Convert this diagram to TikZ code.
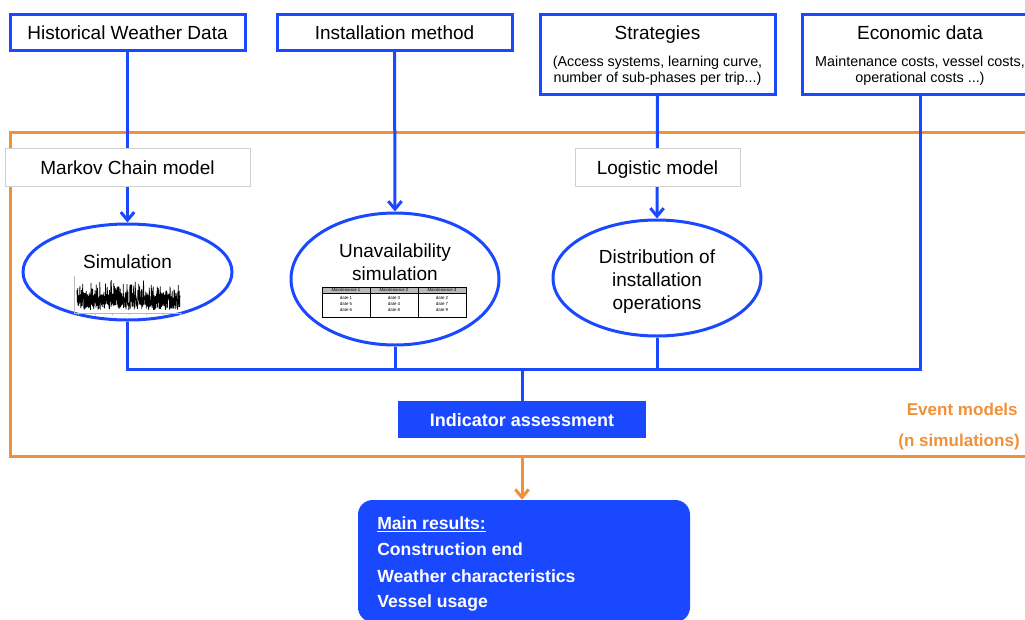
\documentclass[tikz,border=0pt]{standalone}
\usepackage{fontspec}
\setmainfont{Liberation Sans}
\usetikzlibrary{arrows.meta,shapes.geometric}
\definecolor{flowblue}{RGB}{26,72,255}
\definecolor{evorange}{RGB}{240,145,58}
\definecolor{modelgray}{RGB}{208,208,208}
\begin{document}
\begin{tikzpicture}[x=0.75pt,y=-0.75pt,
  inbox/.style={draw=flowblue, line width=2.25pt, fill=white, minimum width=176.25pt, inner sep=0pt},
  txt/.style={font=\fontsize{14.25}{17}\selectfont, anchor=base, inner sep=0pt},
  subtxt/.style={font=\fontsize{10.75}{12}\selectfont, anchor=base, inner sep=0pt},
  modelbox/.style={draw=modelgray, line width=0.75pt, fill=white, minimum height=28.5pt, inner sep=0pt},
  evt/.style={ellipse, draw=flowblue, line width=2.25pt, fill=white, inner sep=0pt},
  link/.style={draw=flowblue, line width=2.25pt},
  arr/.style={link, -{Straight Barb[length=6pt,width=10pt]}},
  oarr/.style={draw=evorange, line width=2.25pt, -{Straight Barb[length=6pt,width=10pt]}},
  boldw/.style={font=\bfseries\fontsize{13.2}{15}\selectfont, text=white, inner sep=0pt},
  evtxt/.style={font=\bfseries\fontsize{12.8}{15}\selectfont, text=evorange, anchor=base east, inner sep=0pt},
  tabtxt/.style={font=\fontsize{3.3}{3.6}\selectfont, inner sep=0pt}
]
\clip (0,0) rectangle (1025,619);

% frame of the event models
\draw[evorange, line width=2.25pt] (10,132) rectangle (1050,456);
\coordinate (fb) at (522,456);

% input boxes
\node[inbox, minimum height=27pt] (hist) at (127.5,32) {};
\node[txt] (histt) at (127.5,39) {Historical Weather Data};
\node[inbox, minimum height=27pt] (inst) at (394.5,32) {};
\node[txt] (instt) at (394.5,39) {Installation method};
\node[inbox, minimum height=60pt] (strat) at (657.5,54) {};
\node[txt] (stratt) at (657.5,39) {Strategies};
\node[subtxt] (strats1) at (657.5,66) {(Access systems, learning curve,};
\node[subtxt] (strats2) at (657.5,82) {number of sub-phases per trip...)};
\node[inbox, minimum height=60pt] (econ) at (920,54) {};
\node[txt] (econt) at (920,39) {Economic data};
\node[subtxt] (econs1) at (920,66) {Maintenance costs, vessel costs,};
\node[subtxt] (econs2) at (920,82) {operational costs ...)};

% event ellipses
\node[evt, minimum width=156.75pt, minimum height=72pt] (sim) at (127.5,272) {};
\node[evt, minimum width=156pt, minimum height=99pt] (unav) at (395,279) {};
\node[evt, minimum width=156pt, minimum height=87pt] (dist) at (657,278) {};

% junctions of the collecting line
\coordinate (j1) at (127.5,369);
\coordinate (j2) at (395,369);
\coordinate (j3) at (657,369);
\coordinate (j4) at (920,369);
\coordinate (jm) at (522,369);

% indicator and results
\node[fill=flowblue, minimum width=186pt, minimum height=27.75pt, inner sep=0pt] (ind) at (522,419.5) {};
\node[boldw, anchor=base, font=\bfseries\fontsize{13.5}{15}\selectfont] (indt) at (522,426.5) {Indicator assessment};
\node[fill=flowblue, rounded corners=11pt, minimum width=249pt, minimum height=91.5pt, inner sep=0pt] (res) at (524,561) {};

% connectors
\draw[arr] (hist.south) -- (sim.north);
\draw[arr] (inst.south) -- (unav.north);
\draw[arr] (strat.south) -- (dist.north);
\draw[link] (econ.south) -- (j4) -- (j1) -- (sim.south);
\draw[link] (unav.south) -- (j2);
\draw[link] (dist.south) -- (j3);
\draw[link] (jm) -- (ind.north);
\draw[oarr] (fb) -- (fb |- res.north);

% model labels laid over the connectors
\node[modelbox, minimum width=183.75pt] (markov) at (127.5,167) {};
\node[txt] (markovt) at (127.5,174) {Markov Chain model};
\node[modelbox, minimum width=123.75pt] (logi) at (657.5,167) {};
\node[txt] (logit) at (657.5,174) {Logistic model};

% ellipse texts
\node[txt] (simt) at (127.5,268) {Simulation};
\node[txt] (unavt1) at (395,257) {Unavailability};
\node[txt] (unavt2) at (395,280) {simulation};
\node[txt] (distt1) at (657,263) {Distribution of};
\node[txt] (distt2) at (657,286) {installation};
\node[txt] (distt3) at (657,309) {operations};

% small time series thumbnail
\draw[gray!55, line width=0.4pt] (74,276) -- (74,313) -- (182,313);
\foreach \tx in {78,95,112,129,146,163,180}
  \draw[gray!55, line width=0.3pt] (\tx,313) -- (\tx,315);
\pgfmathsetseed{42}
\draw[black, line width=0.55pt, line join=bevel] plot[domain=77:180, samples=700]
  (\x, {302 + 8*rand - 15*(rnd)^5});

% small maintenance table thumbnail
\fill[gray!55] (322,287) rectangle (466,293);
\draw[black, line width=0.5pt] (322,287) rectangle (466,317);
\draw[black, line width=0.4pt] (322,293) -- (466,293) (370,287) -- (370,317) (418,287) -- (418,317);
\node[tabtxt] (th1) at (346,290) {Maintenance 1};
\node[tabtxt] (th2) at (394,290) {Maintenance 2};
\node[tabtxt] (th3) at (442,290) {Maintenance 3};
\node[tabtxt] (ta1) at (346,298) {date 1};
\node[tabtxt] (ta2) at (394,298) {date 3};
\node[tabtxt] (ta3) at (442,298) {date 2};
\node[tabtxt] (tb1) at (346,304) {date 5};
\node[tabtxt] (tb2) at (394,304) {date 4};
\node[tabtxt] (tb3) at (442,304) {date 7};
\node[tabtxt] (tc1) at (346,310) {date 6};
\node[tabtxt] (tc2) at (394,310) {date 8};
\node[tabtxt] (tc3) at (442,310) {date 9};

% frame caption
\node[evtxt] (ev1) at (1018,415) {Event models};
\node[evtxt] (ev2) at (1020,446) {(n simulations)};

% result lines
\node[boldw, anchor=base west] (r1) at (377,529) {\underline{Main results:}};
\node[boldw, anchor=base west] (r2) at (377,555) {Construction end};
\node[boldw, anchor=base west] (r3) at (377,582) {Weather characteristics};
\node[boldw, anchor=base west] (r4) at (377,607) {Vessel usage};
\end{tikzpicture}
\end{document}
